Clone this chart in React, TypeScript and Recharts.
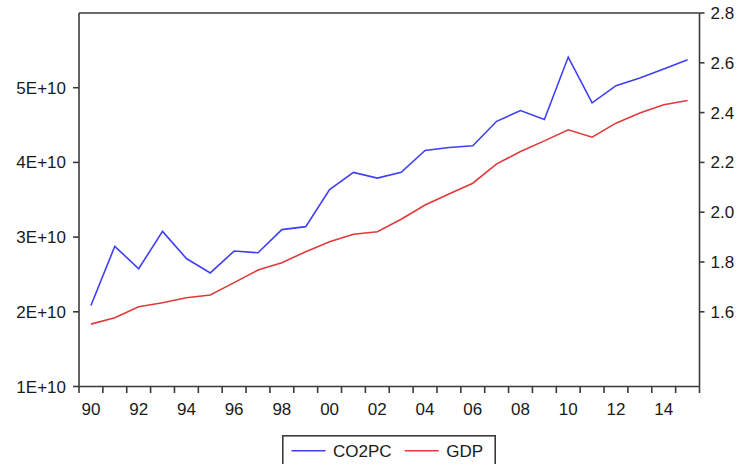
import React from 'react';
import { LineChart, Line, XAxis, YAxis, Legend, ReferenceLine } from 'recharts';

const years = [1990, 1991, 1992, 1993, 1994, 1995, 1996, 1997, 1998, 1999, 2000, 2001, 2002, 2003, 2004, 2005, 2006, 2007, 2008, 2009, 2010, 2011, 2012, 2013, 2014, 2015];
const co2pc = [1.625, 1.863, 1.773, 1.923, 1.814, 1.756, 1.844, 1.837, 1.930, 1.942, 2.091, 2.160, 2.137, 2.160, 2.248, 2.260, 2.267, 2.365, 2.408, 2.372, 2.623, 2.439, 2.508, 2.539, 2.575, 2.612];
const gdp = [1.835e10, 1.920e10, 2.067e10, 2.121e10, 2.188e10, 2.224e10, 2.391e10, 2.559e10, 2.657e10, 2.804e10, 2.938e10, 3.038e10, 3.072e10, 3.239e10, 3.430e10, 3.578e10, 3.721e10, 3.980e10, 4.145e10, 4.288e10, 4.436e10, 4.338e10, 4.525e10, 4.660e10, 4.771e10, 4.828e10];
const xLabelYears = [1990, 1992, 1994, 1996, 1998, 2000, 2002, 2004, 2006, 2008, 2010, 2012, 2014];
const xLabels = ['90', '92', '94', '96', '98', '00', '02', '04', '06', '08', '10', '12', '14'];
const leftTicks = [1e10, 2e10, 3e10, 4e10, 5e10];
const leftLabels = ['1E+10', '2E+10', '3E+10', '4E+10', '5E+10'];
const rightTicks = [1.6, 1.8, 2.0, 2.2, 2.4, 2.6, 2.8];
const rightLabels = ['1.6', '1.8', '2.0', '2.2', '2.4', '2.6', '2.8'];
const seriesNames = ['CO2PC', 'GDP'];

const BLUE = '#3f3ff5';
const RED = '#e03a3a';
const AXIS = '#3a3a3a';
const FONT = '"Liberation Sans", Arial, sans-serif';
const TEXT = '#1a1a1a';

const data = years.map((year, i) => ({ year, co2pc: co2pc[i], gdp: gdp[i] }));

const xTicks: number[] = [];
years.forEach((y) => {
  xTicks.push(y - 0.5);
  xTicks.push(y);
});
xTicks.push(years[years.length - 1] + 0.5);

const renderXTick = (props: any) => {
  const { x, y, payload } = props;
  const v = payload.value as number;
  if (!Number.isInteger(v)) {
    return (
      <line x1={x} x2={x} y1={y} y2={y + 6.5} stroke={AXIS} strokeWidth={1.6} />
    );
  }
  const idx = xLabelYears.indexOf(v);
  if (idx < 0) return <g />;
  return (
    <text x={x} y={y + 28.5} textAnchor="middle" fontFamily={FONT} fontSize={17} fill={TEXT}>
      {xLabels[idx]}
    </text>
  );
};

const renderLegend = (props: any) => {
  const payload = props.payload || [];
  const offsets = [9.5, 122.7];
  return (
    <svg width={214} height={34} style={{ display: 'block' }}>
      <rect x={0.8} y={0.8} width={212.4} height={40} fill="#fff" stroke={AXIS} strokeWidth={1.6} />
      {payload.map((p: any, i: number) => (
        <g key={i}>
          <line x1={offsets[i]} x2={offsets[i] + 34} y1={15.7} y2={15.7} stroke={p.color} strokeWidth={1.6} />
          <text x={offsets[i] + 41.5} y={22} fontFamily={FONT} fontSize={17} fill={TEXT}>
            {p.value}
          </text>
        </g>
      ))}
    </svg>
  );
};

export default function App() {
  return (
    <div style={{ position: 'absolute', left: 0, top: 0, width: 740, height: 464, overflow: 'hidden', background: '#fff' }}>
      <LineChart width={740} height={464} data={data} margin={{ top: 13, right: 0, bottom: 0, left: 0 }}>
        <XAxis
          dataKey="year"
          type="number"
          domain={[1989.5, 2015.5]}
          ticks={xTicks}
          interval={0}
          tick={renderXTick}
          tickLine={false}
          tickSize={0}
          tickMargin={0}
          height={77.5}
          axisLine={{ stroke: AXIS, strokeWidth: 1.6 }}
          allowDataOverflow
        />
        <YAxis
          yAxisId="left"
          orientation="left"
          width={79}
          domain={[1e10, 6e10]}
          ticks={leftTicks}
          interval={0}
          tickFormatter={(v: number) => leftLabels[leftTicks.indexOf(v)] ?? ''}
          tick={{ fontFamily: FONT, fontSize: 17, fill: TEXT }}
          tickSize={6}
          tickMargin={7}
          tickLine={{ stroke: AXIS, strokeWidth: 1.6 }}
          axisLine={{ stroke: AXIS, strokeWidth: 1.6 }}
          allowDataOverflow
        />
        <YAxis
          yAxisId="right"
          orientation="right"
          width={40.5}
          domain={[1.3, 2.8]}
          ticks={rightTicks}
          interval={0}
          tickFormatter={(v: number) => rightLabels[rightTicks.indexOf(v)] ?? ''}
          tick={{ fontFamily: FONT, fontSize: 17, fill: TEXT }}
          tickSize={5}
          tickMargin={6}
          tickLine={{ stroke: AXIS, strokeWidth: 1.6 }}
          axisLine={{ stroke: AXIS, strokeWidth: 1.6 }}
          allowDataOverflow
        />
        <ReferenceLine yAxisId="left" y={6e10} stroke={AXIS} strokeWidth={1.6} ifOverflow="extendDomain" />
        <Line
          yAxisId="right"
          dataKey="co2pc"
          name={seriesNames[0]}
          stroke={BLUE}
          strokeWidth={1.6}
          dot={false}
          type="linear"
          isAnimationActive={false}
        />
        <Line
          yAxisId="left"
          dataKey="gdp"
          name={seriesNames[1]}
          stroke={RED}
          strokeWidth={1.6}
          dot={false}
          type="linear"
          isAnimationActive={false}
        />
        <Legend
          layout="vertical"
          align="center"
          verticalAlign="middle"
          content={renderLegend}
          wrapperStyle={{ left: 282, top: 435, width: 214, height: 34 }}
        />
      </LineChart>
    </div>
  );
}
